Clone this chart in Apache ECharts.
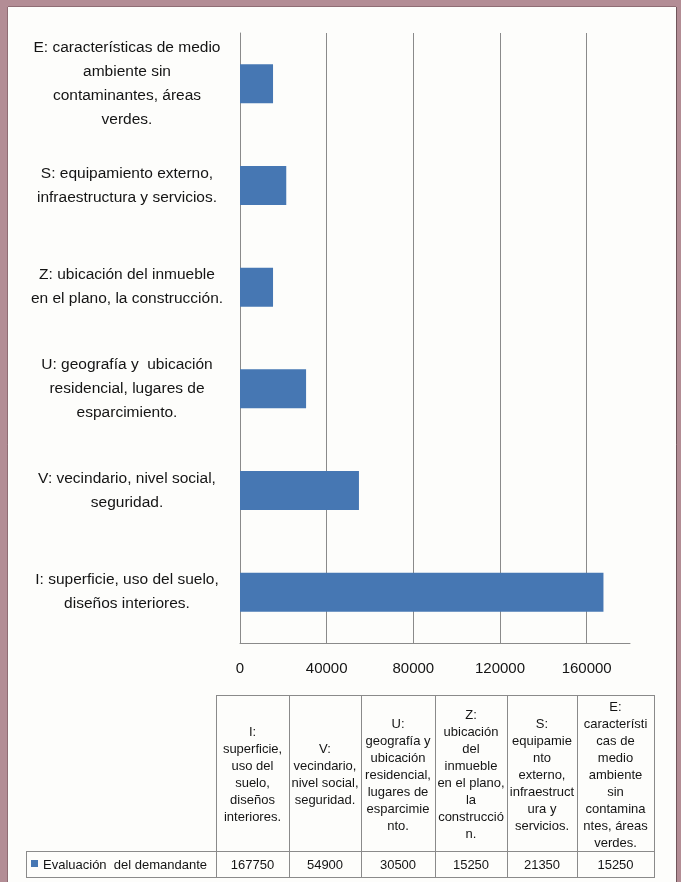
<!DOCTYPE html>
<html>
<head>
<meta charset="utf-8">
<script src="https://cdn.jsdelivr.net/npm/echarts@6/dist/echarts.min.js"></script>
<style>
html,body{margin:0;padding:0;background:#b38d95;}
#chart{width:681px;height:882px;}
</style>
</head>
<body>
<div id="chart"></div>
<script>
// Categories, bottom to top on the axis (same order as the data table columns)
var categories = [
  "I: superficie, uso del suelo,\ndiseños interiores.",
  "V: vecindario, nivel social,\nseguridad.",
  "U: geografía y  ubicación\nresidencial, lugares de\nesparcimiento.",
  "Z: ubicación del inmueble\nen el plano, la construcción.",
  "S: equipamiento externo,\ninfraestructura y servicios.",
  "E: características de medio\nambiente sin\ncontaminantes, áreas\nverdes."
];
var tableHeaders = [
  "I:\nsuperficie,\nuso del\nsuelo,\ndiseños\ninteriores.",
  "V:\nvecindario,\nnivel social,\nseguridad.",
  "U:\ngeografía y\nubicación\nresidencial,\nlugares de\nesparcimie\nnto.",
  "Z:\nubicación\ndel\ninmueble\nen el plano,\nla\nconstrucció\nn.",
  "S:\nequipamie\nnto\nexterno,\ninfraestruct\nura y\nservicios.",
  "E:\ncaracterísti\ncas de\nmedio\nambiente\nsin\ncontamina\nntes, áreas\nverdes."
];
var seriesName = "Evaluación  del demandante";
var values = [167750, 54900, 30500, 15250, 21350, 15250];
var xTicks = { min: 0, max: 180000, interval: 40000 };

var FONT = '"Liberation Sans", Arial, sans-serif';
var BAR = '#4677b3';
var LINE = '#8a8a8a';
var TXT = '#141414';

// table layout
var colEdges = [216, 289, 361, 435, 507, 577, 654];
var legendLeft = 26;
var tTop = 695, tMid = 851, tBot = 877;

var graphics = [];
// paper (white area inside the photo border)
graphics.push({ type: 'rect', z: -10, shape: { x: 8, y: 7, width: 668, height: 875 }, style: { fill: '#fdfdfb' } });
graphics.push({ type: 'line', z: -9, shape: { x1: 7.5, y1: 7, x2: 7.5, y2: 882 }, style: { stroke: '#8f6d74', lineWidth: 1 } });
graphics.push({ type: 'line', z: -9, shape: { x1: 8, y1: 6.5, x2: 676, y2: 6.5 }, style: { stroke: '#8f6d74', lineWidth: 1 } });
graphics.push({ type: 'line', z: -9, shape: { x1: 676.5, y1: 7, x2: 676.5, y2: 882 }, style: { stroke: '#6f555a', lineWidth: 1 } });

function hline(x1, x2, y) {
  graphics.push({ type: 'line', shape: { x1: x1, y1: y + 0.5, x2: x2, y2: y + 0.5 }, style: { stroke: LINE, lineWidth: 1 } });
}
function vline(x, y1, y2) {
  graphics.push({ type: 'line', shape: { x1: x + 0.5, y1: y1, x2: x + 0.5, y2: y2 }, style: { stroke: LINE, lineWidth: 1 } });
}
hline(colEdges[0], colEdges[colEdges.length - 1], tTop);
hline(legendLeft, colEdges[colEdges.length - 1], tMid);
hline(legendLeft, colEdges[colEdges.length - 1], tBot);
vline(legendLeft, tMid, tBot + 1);
colEdges.forEach(function (x) { vline(x, tTop, tBot + 1); });

tableHeaders.forEach(function (h, i) {
  var cx = (colEdges[i] + colEdges[i + 1]) / 2;
  graphics.push({
    type: 'text', x: cx, y: (tTop + tMid) / 2 + 2,
    style: { text: h, fill: TXT, font: '13px ' + FONT, align: 'center', verticalAlign: 'middle', lineHeight: 17 }
  });
  graphics.push({
    type: 'text', x: cx, y: (tMid + tBot) / 2 + 1,
    style: { text: String(values[i]), fill: TXT, font: '13px ' + FONT, align: 'center', verticalAlign: 'middle' }
  });
});
graphics.push({ type: 'rect', shape: { x: 31, y: 860, width: 7, height: 7 }, style: { fill: BAR } });
graphics.push({
  type: 'text', x: 43, y: (tMid + tBot) / 2 + 1,
  style: { text: seriesName, fill: TXT, font: '13px ' + FONT, align: 'left', verticalAlign: 'middle' }
});

var chart = echarts.init(document.getElementById('chart'), null, { renderer: 'canvas' });
chart.setOption({
  backgroundColor: '#b38d95',
  animation: false,
  grid: { left: 240, right: 51, top: 33, bottom: 239, containLabel: false, outerBoundsMode: 'none' },
  xAxis: {
    type: 'value',
    min: xTicks.min, max: xTicks.max, interval: xTicks.interval,
    axisLine: { show: true, lineStyle: { color: LINE, width: 1 } },
    axisTick: { show: false },
    axisLabel: { color: TXT, fontFamily: FONT, fontSize: 15, margin: 18, showMaxLabel: false,
      formatter: function (v) { return String(v); } },
    splitLine: { show: true, showMinLine: false, showMaxLine: false, lineStyle: { color: LINE, width: 1 } }
  },
  yAxis: {
    type: 'category',
    data: categories,
    axisLine: { show: true, lineStyle: { color: LINE, width: 1 } },
    axisTick: { show: false },
    axisLabel: { color: TXT, fontFamily: FONT, fontSize: 15.5, lineHeight: 24, align: 'center', margin: 113, interval: 0 }
  },
  series: [{
    name: seriesName,
    type: 'bar',
    data: values,
    barWidth: 39,
    itemStyle: { color: BAR }
  }],
  graphic: { elements: graphics }
});
</script>
</body>
</html>
